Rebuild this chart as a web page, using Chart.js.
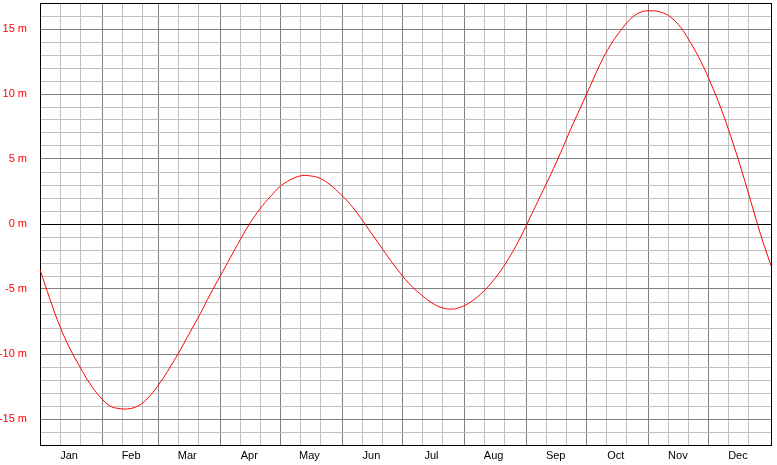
<!DOCTYPE html>
<html>
<head>
<meta charset="utf-8">
<script src="https://cdn.jsdelivr.net/npm/chart.js@4/dist/chart.umd.min.js"></script>
<style>
  html, body { margin: 0; padding: 0; background: #fff; }
  canvas { display: block; }
</style>
</head>
<body>
<canvas id="c" width="777" height="465"></canvas>
<script>
// day of year (Jan 1 = 0), sampled every 5 days
const days = [
  0, 5, 10, 15, 20, 25, 30, 35, 40, 45, 50, 55, 60, 65, 70, 75, 80, 85, 90, 95,
  100, 105, 110, 115, 120, 125, 130, 135, 140, 145, 150, 155, 160, 165, 170, 175, 180, 185, 190, 195,
  200, 205, 210, 215, 220, 225, 230, 235, 240, 245, 250, 255, 260, 265, 270, 275, 280, 285, 290, 295,
  300, 305, 310, 315, 320, 325, 330, 335, 340, 345, 350, 355, 360, 365
]
// equation of time, minutes
const minutes = [
  -3.5, -5.8, -7.9, -9.6, -11.0, -12.3, -13.3, -14.0, -14.2, -14.2, -13.9, -13.2, -12.2, -11.0, -9.7, -8.3, -6.9, -5.4, -4.0, -2.6,
  -1.2, 0.1, 1.2, 2.1, 2.9, 3.4, 3.7, 3.7, 3.5, 3.0, 2.3, 1.5, 0.5, -0.6, -1.7, -2.8, -3.8, -4.7, -5.4, -6.0,
  -6.4, -6.55, -6.4, -6.0, -5.4, -4.6, -3.6, -2.4, -1.0, 0.6, 2.2, 3.8, 5.5, 7.3, 9.0, 10.7, 12.4, 13.8, 14.9, 15.8,
  16.3, 16.4, 16.3, 15.9, 15.1, 13.9, 12.5, 10.8, 8.9, 6.7, 4.3, 1.7, -0.9, -3.2
]
const months = ['Jan', 'Feb', 'Mar', 'Apr', 'May', 'Jun', 'Jul', 'Aug', 'Sep', 'Oct', 'Nov', 'Dec']
const monthStarts = [0, 31, 59, 90, 120, 151, 181, 212, 243, 273, 304, 334]
const yearEnd = 365

const labelDays = monthStarts.map(d => d + 14.5)
const gridDays = []
monthStarts.forEach(d => { gridDays.push(d, d + 10, d + 20) })
gridDays.push(yearEnd)

const font = { family: "'Liberation Sans', Arial, sans-serif", size: 11 }

new Chart(document.getElementById('c'), {
  type: 'line',
  data: {
    datasets: [{
      data: days.map((d, i) => ({ x: d, y: minutes[i] })),
      borderColor: '#ff0000',
      borderWidth: 1,
      pointRadius: 0,
      tension: 0.4,
    }],
  },
  options: {
    responsive: false,
    animation: false,
    layout: { padding: { top: 3, right: 6, left: 0, bottom: 0 } },
    plugins: { legend: { display: false }, tooltip: { enabled: false } },
    scales: {
      x: {
        type: 'linear',
        min: 0,
        max: yearEnd,
        afterBuildTicks: scale => {
          scale.ticks = gridDays.concat(labelDays).sort((a, b) => a - b).map(v => ({ value: v }))
        },
        afterFit: scale => {
          scale.height = 20
          scale.paddingLeft = 0
          scale.paddingRight = 0
        },
        ticks: {
          autoSkip: false,
          maxRotation: 0,
          padding: 4,
          color: '#000',
          font: font,
          callback: v => {
            const i = labelDays.indexOf(v)
            return i >= 0 ? months[i] : ''
          },
        },
        grid: {
          drawTicks: false,
          color: ctx => {
            const v = ctx.tick.value
            if (labelDays.includes(v)) return 'rgba(0,0,0,0)'
            if (v === 0 || v === yearEnd) return '#000'
            if (monthStarts.includes(v)) return '#808080'
            return '#c0c0c0'
          },
        },
        border: { color: '#000' },
      },
      y: {
        min: -17,
        max: 17,
        afterFit: scale => {
          scale.width = 40
          scale.paddingTop = 0
          scale.paddingBottom = 0
        },
        ticks: {
          stepSize: 1,
          autoSkip: false,
          padding: 13,
          color: '#ff0000',
          font: font,
          callback: v => (v % 5 === 0 ? v + ' m' : ''),
        },
        grid: {
          drawTicks: false,
          color: ctx => {
            const v = ctx.tick.value
            if (v === 0 || v === 17 || v === -17) return '#000'
            if (v % 5 === 0) return '#808080'
            return '#c0c0c0'
          },
        },
        border: { color: '#000' },
      },
    },
  },
})
</script>
</body>
</html>
